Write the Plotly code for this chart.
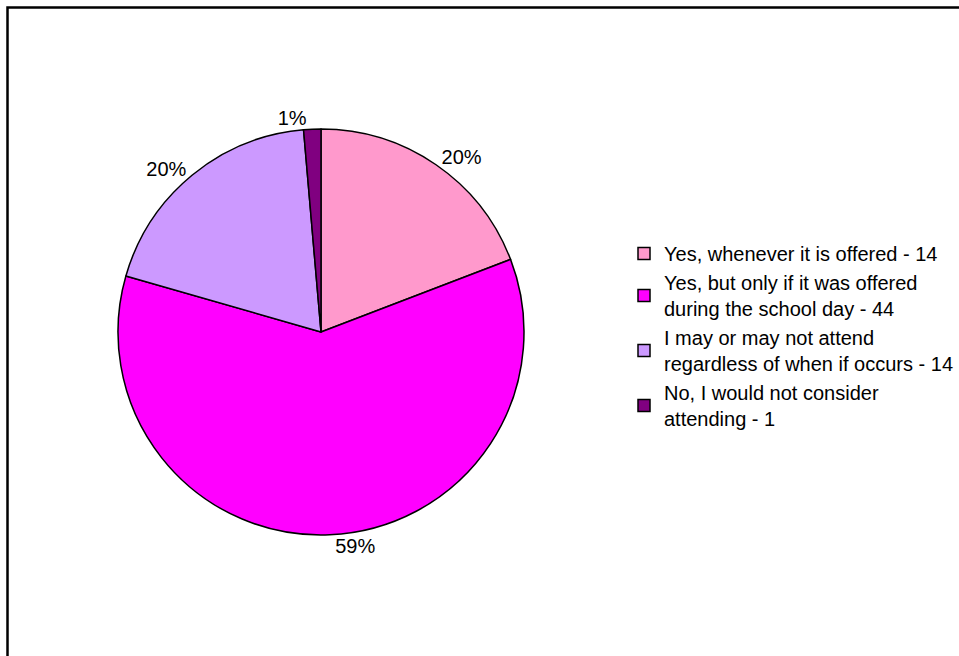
import plotly.graph_objects as go

categories = [
    "Yes, whenever it is offered - 14",
    "Yes, but only if it was offered<br>during the school day - 44",
    "I may or may not attend<br>regardless of when if occurs - 14",
    "No, I would not consider<br>attending - 1",
]
counts = [14, 44, 14, 1]
pct_labels = ["20%", "59%", "20%", "1%"]
colors = ["#FF99CC", "#FF00FF", "#CC99FF", "#800080"]

W, H = 959, 656
cx, cy, r = 321, 332, 203

fig = go.Figure(go.Pie(
    labels=categories,
    values=counts,
    text=pct_labels,
    textinfo="text",
    textposition="outside",
    sort=False,
    direction="clockwise",
    rotation=0,
    marker=dict(colors=colors, line=dict(color="black", width=1.5)),
    textfont=dict(family="Liberation Sans, Arial", size=20, color="black"),
    domain=dict(x=[(cx - r) / W, (cx + r) / W], y=[1 - (cy + r) / H, 1 - (cy - r) / H]),
    hoverinfo="label+value",
))

fig.update_layout(
    width=W, height=H,
    margin=dict(l=0, r=0, t=0, b=0),
    paper_bgcolor="white",
    plot_bgcolor="white",
    font=dict(family="Liberation Sans, Arial", size=20, color="black"),
    showlegend=True,
    legend=dict(
        x=624 / W, y=1 - 234 / H, xanchor="left", yanchor="top",
        font=dict(family="Liberation Sans, Arial", size=20, color="black"),
        itemwidth=30,
        bgcolor="rgba(0,0,0,0)",
        tracegroupgap=0,
    ),
    shapes=[dict(
        type="rect", xref="paper", yref="paper",
        x0=7.5 / W, x1=1.05, y0=-0.05, y1=1 - 7.5 / H,
        line=dict(color="black", width=2.5), fillcolor="rgba(0,0,0,0)",
    )],
)

fig.write_html("out.html")
